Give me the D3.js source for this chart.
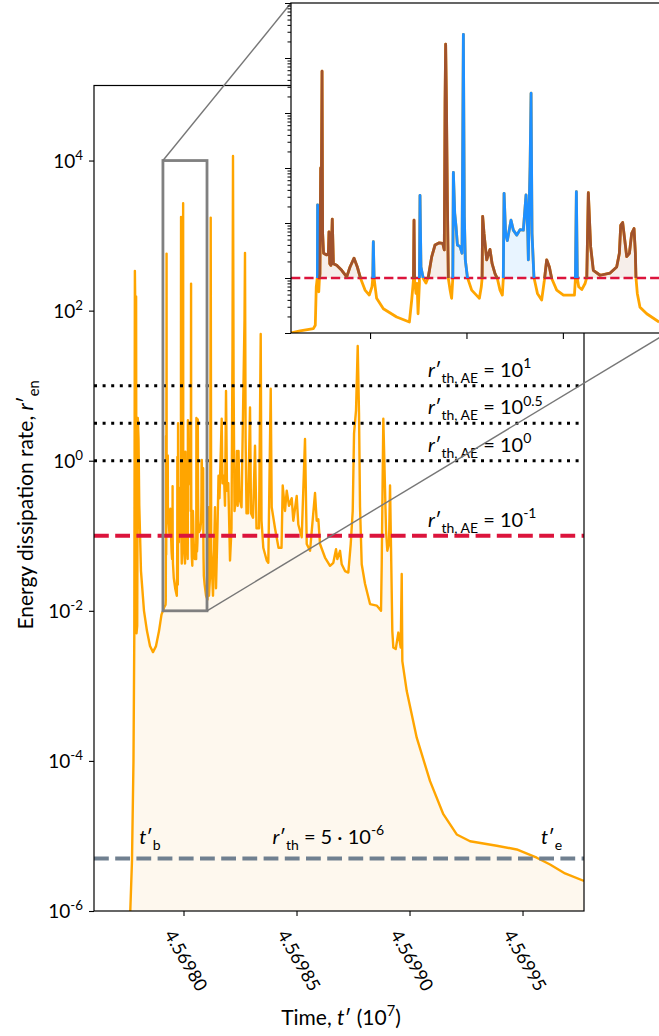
<!DOCTYPE html>
<html>
<head>
<meta charset="utf-8">
<script src="https://cdn.jsdelivr.net/npm/d3@7"></script>
<style>
  body { margin: 0; background: #fff; }
  svg { display: block; }
</style>
</head>
<body>
<div id="chart"></div>
<script>
"use strict"

/* time t' in raw units (axis shows t'/1e7), rates kept as log10 of r'_en */
const riseTime = [45697761.1, 45697772.1, 45697778.7, 45697782.3, 45697784.9, 45697787.6, 45697790.3, 45697792.0, 45697795.1, 45697797.8,
    45697800.9, 45697804.4, 45697811.9, 45697825.2, 45697838.5, 45697851.8, 45697865.0, 45697878.3, 45697891.6, 45697902.6];
const riseLogRate = [-6.3, -5.33, -4.0, -2.33, 2.53, 1.8, 2.19, -2.3, -2.2, 0.57,
    0.3, -0.6, -1.47, -2.0, -2.27, -2.47, -2.55, -2.47, -2.27, -2.05];

/* the zoomed window (same samples feed the main curve and the inset) */
const zoomTime = [
    45697909.0, 45697913.7, 45697920.6, 45697921.6, 45697922.1, 45697922.5, 45697922.7, 45697922.8, 45697923.0, 45697923.4,
    45697923.7, 45697924.0, 45697924.4, 45697924.7, 45697925.1, 45697925.4, 45697925.9, 45697927.5, 45697928.4, 45697928.7,
    45697929.1, 45697929.7, 45697930.4, 45697931.0, 45697932.7, 45697935.3, 45697937.9, 45697939.6, 45697941.7, 45697943.4,
    45697945.1, 45697947.4, 45697949.6, 45697951.0, 45697951.4, 45697951.7, 45697952.1, 45697953.4, 45697956.9, 45697963.8,
    45697970.4, 45697971.6, 45697972.5, 45697972.8, 45697973.1, 45697973.8, 45697974.4, 45697974.9, 45697975.6, 45697975.9,
    45697976.4, 45697977.6, 45697979.0, 45697980.2, 45697982.0, 45697983.7, 45697985.9, 45697987.7, 45697988.5, 45697988.9,
    45697989.2, 45697989.6, 45697990.1, 45697990.6, 45697991.5, 45697992.3, 45697992.9, 45697993.2, 45697993.9, 45697994.6,
    45697995.3, 45697996.7, 45697997.7, 45697998.4, 45697998.9, 45697999.4, 45698000.5, 45698002.7, 45698006.7, 45698007.7,
    45698008.1, 45698008.4, 45698009.1, 45698010.5, 45698011.5, 45698012.2, 45698013.3, 45698014.8, 45698016.0, 45698017.4,
    45698018.6, 45698019.1, 45698019.5, 45698020.3, 45698021.2, 45698023.1, 45698024.3, 45698026.1, 45698027.8, 45698029.5,
    45698030.9, 45698031.8, 45698032.1, 45698032.6, 45698033.0, 45698033.5, 45698034.0, 45698035.0, 45698036.8, 45698039.0,
    45698040.4, 45698041.6, 45698043.0, 45698044.2, 45698046.8, 45698050.3, 45698056.0, 45698056.5, 45698057.0, 45698057.5,
    45698058.2, 45698059.8, 45698061.5, 45698062.4, 45698063.2, 45698064.4, 45698065.8, 45698069.3, 45698074.5, 45698077.9,
    45698079.3, 45698080.0, 45698081.0, 45698082.1, 45698083.1, 45698084.5, 45698085.7, 45698086.9, 45698087.6, 45698087.9,
    45698088.6, 45698090.0, 45698093.5, 45698099.9];
const zoomLogRate = [
    -2.00, -1.96, -1.92, -1.86, -1.16, -1.04, -0.98, 0.33, -0.98, -1.25,
    -1.04, -0.92, 1.00, 0.42, 2.76, -0.19, -0.55, -0.58, -0.55, -0.16,
    -0.74, -0.77, 0.07, -0.74, -0.77, -0.86, -0.98, -0.80, -0.64, -0.80,
    -1.01, -1.22, -1.31, -1.16, -1.01, -0.34, -1.01, -1.37, -1.56, -1.71,
    -1.80, -1.40, -1.04, 0.05, -1.04, -1.28, -1.10, -1.65, -1.10, 0.50,
    -0.80, -1.01, -1.09, -0.98, -0.61, -0.40, -0.36, -0.37, -0.49, 2.21,
    3.25, 2.21, 0.42, -1.01, -1.22, -1.37, -1.01, 0.92, 0.18, -0.07,
    -0.40, -0.43, -0.55, 3.43, 0.12, -0.67, -0.99, -1.22, -1.37, -1.16,
    -1.01, 0.12, -0.19, -0.67, -0.55, -0.48, -0.74, -0.92, -1.01, -1.22,
    -1.31, -1.01, 0.54, -0.19, -0.32, 0.05, -0.13, -0.22, -0.12, -0.13,
    0.51, -0.19, -0.67, 0.42, 1.03, 2.36, -0.19, -0.99, -1.28, -1.40,
    -1.04, -0.67, -0.80, -1.01, -1.22, -1.31, -1.31, -1.01, 0.57, -1.01,
    -1.16, -1.21, -1.10, -0.99, 0.55, -0.43, -0.86, -0.95, -0.91, -0.80,
    -0.55, -0.04, 0.01, -0.31, -0.61, -0.55, -0.19, -0.10, -0.55, -0.99,
    -1.28, -1.53, -1.65, -1.80];

const decayTime = [
    45698106.2, 45698109.7, 45698112.8, 45698118.1, 45698120.4, 45698122.6, 45698130.5, 45698139.4, 45698143.8, 45698150.5,
    45698154.9, 45698159.3, 45698169.0, 45698172.6, 45698179.2, 45698183.6, 45698188.1, 45698192.5, 45698198.2, 45698202.7,
    45698205.8, 45698212.4, 45698216.8, 45698219.0, 45698221.7, 45698225.7, 45698232.3, 45698236.7, 45698239.8, 45698243.4,
    45698247.8, 45698256.7, 45698269.9, 45698272.1, 45698274.8, 45698278.8, 45698285.4, 45698294.3, 45698298.7, 45698307.5,
    45698316.4, 45698323.0, 45698334.1, 45698341.6, 45698345.2, 45698353.1, 45698368.2, 45698375.2, 45698385.9, 45698390.3,
    45698404.9, 45698420.4, 45698433.7, 45698439.0, 45698449.1, 45698456.7, 45698466.8, 45698478.8, 45698485.9, 45698500.9,
    45698508.0, 45698523.0, 45698537.6, 45698545.2, 45698559.8, 45698581.9, 45698589.4, 45698596.5, 45698604.0, 45698626.1,
    45698648.3, 45698662.9, 45698674.8, 45698680.6, 45698692.5, 45698700.0, 45698714.6, 45698729.2, 45698739.9, 45698748.7,
    45698754.5, 45698763.3, 45698770.8, 45698776.6, 45698781.0, 45698788.5, 45698803.1, 45698825.3, 45698854.9, 45698873.9,
    45698877.0, 45698884.1, 45698896.1, 45698901.8, 45698909.3, 45698913.8, 45698918.2, 45698923.9, 45698928.4, 45698939.0,
    45698950.5, 45698961.1, 45698965.5, 45698968.2, 45698987.7, 45699031.9, 45699090.8, 45699149.6, 45699208.9, 45699267.8,
    45699385.9, 45699474.4, 45699562.9, 45699621.8, 45699688.1, 45699772.2];
const decayLogRate = [
    -1.85, -0.62, -1.8, -1.5, 3.24, -1.2, -1.8, -0.62, -1.7, -0.9,
    -0.2, -0.5, 0.56, -0.3, -0.2, -0.6, 0.93, -0.4, -0.3, -0.9,
    -1.33, -0.9, 1.5, 4.06, 1.0, -0.67, -0.5, 0.13, -0.6, 0.13,
    -0.5, -0.62, 1.87, 2.77, 0.3, -0.7, -0.7, 0.71, -0.7, -0.76,
    0.2, -0.9, -0.9, 1.69, -0.8, -1.16, -1.33, -1.36, 0.96, -0.62,
    -0.9, -1.16, -1.16, -0.33, -0.67, -0.4, -0.6, -0.5, -0.8, -0.47,
    -0.85, -1.02, 0.29, -1.11, -1.2, -0.43, -0.8, -0.78, -1.11, -1.29,
    -1.4, -1.36, -1.18, -1.31, -1.2, -1.38, -1.47, -1.49, -1.11, -0.67,
    0.36, 0.67, 1.53, 0.62, -0.62, -1.38, -1.64, -1.91, -1.93, -2.0,
    -1.38, 0.56, -0.93, -1.2, -1.11, -0.33, -1.16, -2.27, -2.49, -2.51,
    -2.29, -2.49, -1.51, -2.67, -3.07, -3.69, -4.27, -4.71, -4.98, -5.07,
    -5.13, -5.18, -5.29, -5.38, -5.5, -5.6];

/* avalanche events inside the zoom window */
const eventStart = [45697922.5, 45697923.7, 45697951.0, 45697972.5, 45697975.6, 45697979.0,
    45697992.9, 45698008.1, 45698019.1, 45698040.4, 45698056.5, 45698061.5];
const eventEnd = [45697923.4, 45697945.1, 45697952.1, 45697973.1, 45697977.6, 45697990.6,
    45698002.7, 45698016.0, 45698036.8, 45698044.2, 45698057.5, 45698088.6];
const eventKind = ["blue", "brown", "blue", "brown", "blue", "brown",
    "blue", "brown", "blue", "brown", "blue", "brown"];

const aeLevels = [10, 3.1623, 1];
const aeExponents = ["1", "0.5", "0"];
const aeCut = 0.1;
const aeCutExponent = "-1";
const rThreshold = 5e-6;

const xTicks = [45698000, 45698500, 45699000, 45699500];
const yTicks = [1e-6, 1e-4, 1e-2, 1, 1e2, 1e4];
const yTickExponents = ["-6", "-4", "-2", "0", "2", "4"];
const zoomWindow = [45697909, 45698104];
const zoomRates = [1e-2, 1e4];
const zoomXTicks = [45697950, 45698000, 45698050];

/* ---------- drawing ---------- */
const font = "Lato, 'Open Sans', sans-serif";
const svg = d3.select("#chart").append("svg")
    .attr("width", 659)
    .attr("height", 1036)
    .attr("font-family", font);

const plot = { left: 94, right: 584, top: 85.5, bottom: 911 };
const x = d3.scaleLinear().domain([45697604, 45699772]).range([plot.left, plot.right]);
const y = d3.scaleLog().domain([1e-6, 1e5]).range([plot.bottom, plot.top]);

const inset = { left: 291, right: 667, top: 3, bottom: 333 };
const xi = d3.scaleLinear().domain(zoomWindow).range([inset.left, inset.right]);
const yi = d3.scaleLog().domain(zoomRates).range([inset.bottom, inset.top]);

const defs = svg.append("defs");
function addClip(id, x0, y0, x1, y1) {
    defs.append("clipPath").attr("id", id).append("rect")
        .attr("x", x0).attr("y", y0).attr("width", x1 - x0).attr("height", y1 - y0);
}
addClip("clipMain", plot.left, plot.top, plot.right, plot.bottom);
addClip("clipInset", inset.left, inset.top, inset.right, inset.bottom);
addClip("clipAbove", inset.left, inset.top, inset.right, yi(aeCut));

const toPoints = (ts, ls) => ts.map((t, i) => ({ t: t, r: Math.pow(10, ls[i]) }));
const rise = toPoints(riseTime, riseLogRate);
const zoomed = toPoints(zoomTime, zoomLogRate);
const decay = toPoints(decayTime, decayLogRate);
const series = rise.concat(zoomed, decay);

// little helper for mathtext-like labels: parts = [text, mode]
function mathText(text, parts, size) {
    let shift = 0;
    parts.forEach(p => {
        const mode = p[1];
        const target = mode === "sub" ? size * 0.3 : (mode === "sup" ? -size * 0.42 : 0);
        const ts = text.append("tspan").text(p[0]).attr("dy", target - shift);
        if (mode === "it") ts.attr("font-style", "italic");
        if (mode === "sub" || mode === "sup") ts.attr("font-size", size * 0.7);
        shift = target;
    });
}

/* main panel */
const main = svg.append("g").attr("clip-path", "url(#clipMain)");

main.append("path").datum(series)
    .attr("d", d3.area().x(d => x(d.t)).y0(y.range()[0]).y1(d => y(d.r)))
    .attr("fill", "#fef8ee");

main.append("path").datum(series)
    .attr("d", d3.line().x(d => x(d.t)).y(d => y(d.r)))
    .attr("fill", "none")
    .attr("stroke", "#ffa500")
    .attr("stroke-width", 2.4)
    .attr("stroke-linejoin", "round");

main.selectAll(".ae").data(aeLevels).enter().append("line")
    .attr("x1", plot.left).attr("x2", plot.right)
    .attr("y1", d => y(d)).attr("y2", d => y(d))
    .attr("stroke", "black")
    .attr("stroke-width", 3)
    .attr("stroke-dasharray", "3,5.6");

main.append("line")
    .attr("x1", plot.left).attr("x2", plot.right)
    .attr("y1", y(aeCut)).attr("y2", y(aeCut))
    .attr("stroke", "#dc143c")
    .attr("stroke-width", 4)
    .attr("stroke-dasharray", "14.8,6.4");

main.append("line")
    .attr("x1", plot.left).attr("x2", plot.right)
    .attr("y1", y(rThreshold)).attr("y2", y(rThreshold))
    .attr("stroke", "#708090")
    .attr("stroke-width", 4)
    .attr("stroke-dasharray", "14.8,6.4");

// threshold annotations
const labelT = 45699082;
aeLevels.concat([aeCut]).forEach((lv, i) => {
    const t = svg.append("text")
        .attr("x", x(labelT)).attr("y", y(lv) - 9)
        .attr("font-size", 20);
    mathText(t, [["r", "it"], ["′", "rm"], ["th, AE", "sub"], [" = 10", "rm"],
        [i < aeExponents.length ? aeExponents[i] : aeCutExponent, "sup"]], 20);
});

const tb = svg.append("text").attr("x", x(45697804)).attr("y", y(rThreshold) - 15).attr("font-size", 20);
mathText(tb, [["t", "it"], ["′", "rm"], ["b", "sub"]], 20);
const te = svg.append("text").attr("x", x(45699582)).attr("y", y(rThreshold) - 15).attr("font-size", 20);
mathText(te, [["t", "it"], ["′", "rm"], ["e", "sub"]], 20);
const rth = svg.append("text").attr("x", x(45698394)).attr("y", y(rThreshold) - 15).attr("font-size", 20);
mathText(rth, [["r", "it"], ["′", "rm"], ["th", "sub"], [" = 5 · 10", "rm"], ["-6", "sup"]], 20);

// spines and ticks
svg.append("rect")
    .attr("x", plot.left).attr("y", plot.top)
    .attr("width", plot.right - plot.left).attr("height", plot.bottom - plot.top)
    .attr("fill", "none").attr("stroke", "black").attr("stroke-width", 1.2);

const xAxis = svg.append("g").attr("transform", `translate(0,${plot.bottom})`)
    .call(d3.axisBottom(x).tickValues(xTicks).tickSize(5).tickSizeOuter(0).tickFormat(""));
xAxis.select(".domain").remove();
xAxis.selectAll(".tick line").attr("stroke", "black").attr("stroke-width", 1.1);

const yAxis = svg.append("g").attr("transform", `translate(${plot.left},0)`)
    .call(d3.axisLeft(y).tickValues(yTicks).tickSize(5).tickSizeOuter(0).tickFormat(""));
yAxis.select(".domain").remove();
yAxis.selectAll(".tick line").attr("stroke", "black").attr("stroke-width", 1.1);

xTicks.forEach(v => {
    svg.append("text")
        .attr("transform", `translate(${x(v) + 3},960) rotate(60)`)
        .attr("text-anchor", "middle")
        .attr("dominant-baseline", "central")
        .attr("font-size", 18)
        .text((v / 1e7).toFixed(5));
});

yTicks.forEach((v, i) => {
    const t = svg.append("text")
        .attr("x", plot.left - 11).attr("y", y(v) + 7)
        .attr("text-anchor", "end")
        .attr("font-size", 19);
    mathText(t, [["10", "rm"], [yTickExponents[i], "sup"]], 19);
});

const xl = svg.append("text").attr("x", 341).attr("y", 1025)
    .attr("text-anchor", "middle").attr("font-size", 21);
mathText(xl, [["Time, ", "rm"], ["t", "it"], ["′ (10", "rm"], ["7", "sup"], [")", "rm"]], 21);

const yl = svg.append("text").attr("transform", "translate(33,505) rotate(-90)")
    .attr("text-anchor", "middle").attr("font-size", 21);
mathText(yl, [["Energy dissipation rate, ", "rm"], ["r", "it"], ["′", "rm"], ["en", "sub"]], 21);

/* zoom indicator */
svg.append("rect")
    .attr("x", x(zoomWindow[0])).attr("y", y(zoomRates[1]))
    .attr("width", x(zoomWindow[1]) - x(zoomWindow[0]))
    .attr("height", y(zoomRates[0]) - y(zoomRates[1]))
    .attr("fill", "none").attr("stroke", "#808080").attr("stroke-width", 2.8);

svg.append("line")
    .attr("x1", x(zoomWindow[0])).attr("y1", y(zoomRates[1]))
    .attr("x2", xi(zoomWindow[0])).attr("y2", yi(zoomRates[1]))
    .attr("stroke", "#777").attr("stroke-width", 1.4);
svg.append("line")
    .attr("x1", x(zoomWindow[1])).attr("y1", y(zoomRates[0]))
    .attr("x2", xi(zoomWindow[1])).attr("y2", yi(zoomRates[0]))
    .attr("stroke", "#777").attr("stroke-width", 1.4);

/* inset */
const ins = svg.append("g");
ins.append("rect")
    .attr("x", inset.left).attr("y", inset.top)
    .attr("width", inset.right - inset.left).attr("height", inset.bottom - inset.top)
    .attr("fill", "white");

const kindColor = { blue: "#1e90ff", brown: "#a0522d" };
const kindFill = { blue: "#e8f4ff", brown: "#f6eeea" };

const insBody = ins.append("g").attr("clip-path", "url(#clipInset)");
const events = eventKind.map((k, i) => ({
    kind: k,
    pts: zoomed.filter(d => d.t >= eventStart[i] - 0.01 && d.t <= eventEnd[i] + 0.01)
}));

insBody.selectAll(".evfill").data(events).enter().append("path")
    .attr("d", e => d3.area().x(d => xi(d.t)).y0(yi(aeCut)).y1(d => yi(Math.max(d.r, aeCut)))(e.pts))
    .attr("fill", e => kindFill[e.kind]);

insBody.append("path").datum(zoomed)
    .attr("d", d3.line().x(d => xi(d.t)).y(d => yi(d.r)))
    .attr("fill", "none").attr("stroke", "#ffa500").attr("stroke-width", 2.8)
    .attr("stroke-linejoin", "round");

ins.append("g").attr("clip-path", "url(#clipAbove)")
    .selectAll(".evline").data(events).enter().append("path")
    .attr("d", e => d3.line().x(d => xi(d.t)).y(d => yi(d.r))(e.pts))
    .attr("fill", "none")
    .attr("stroke", e => kindColor[e.kind])
    .attr("stroke-width", 2.8)
    .attr("stroke-linejoin", "round");

insBody.append("line")
    .attr("x1", inset.left).attr("x2", inset.right)
    .attr("y1", yi(aeCut)).attr("y2", yi(aeCut))
    .attr("stroke", "#dc143c").attr("stroke-width", 2.6)
    .attr("stroke-dasharray", "9.3,4");

ins.append("rect")
    .attr("x", inset.left).attr("y", inset.top)
    .attr("width", inset.right - inset.left).attr("height", inset.bottom - inset.top)
    .attr("fill", "none").attr("stroke", "black").attr("stroke-width", 1.2);

const minor = yi.ticks().filter(v => Math.abs(Math.log10(v) - Math.round(Math.log10(v))) > 1e-6);
const major = yi.ticks().filter(v => Math.abs(Math.log10(v) - Math.round(Math.log10(v))) <= 1e-6);
[[minor, 3.5], [major, 6]].forEach(([vals, len]) => {
    const g = ins.append("g").attr("transform", `translate(${inset.left},0)`)
        .call(d3.axisLeft(yi).tickValues(vals).tickSize(len).tickSizeOuter(0).tickFormat(""));
    g.select(".domain").remove();
    g.selectAll(".tick line").attr("stroke", "black").attr("stroke-width", 1);
});
const ixAxis = ins.append("g").attr("transform", `translate(0,${inset.bottom})`)
    .call(d3.axisBottom(xi).tickValues(zoomXTicks).tickSize(6).tickSizeOuter(0).tickFormat(""));
ixAxis.select(".domain").remove();
ixAxis.selectAll(".tick line").attr("stroke", "black").attr("stroke-width", 1.1);
</script>
</body>
</html>
